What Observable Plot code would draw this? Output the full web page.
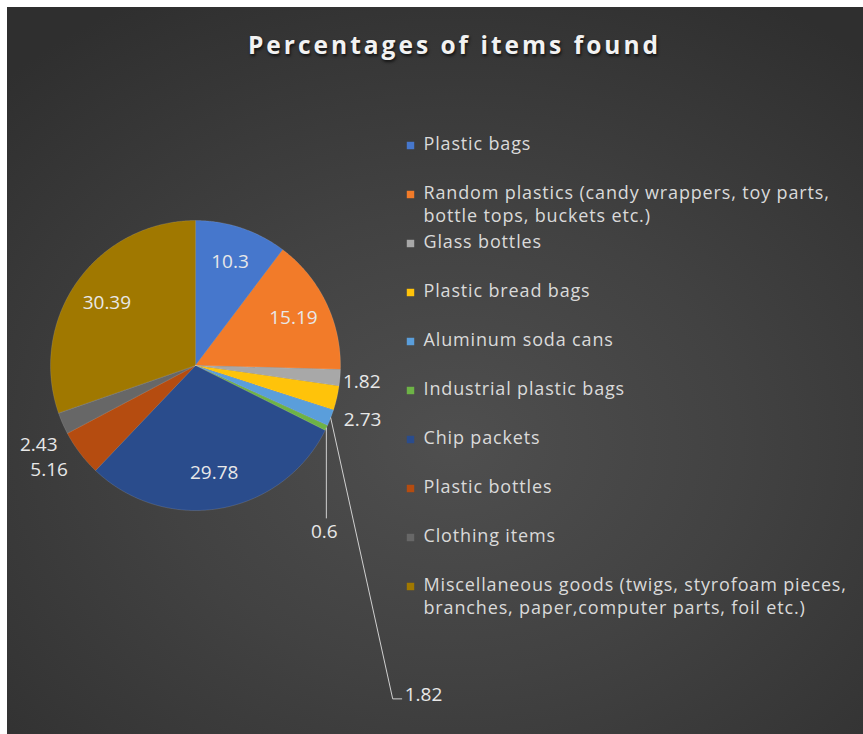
<!DOCTYPE html>
<html>
<head>
<meta charset="utf-8">
<script src="https://cdn.jsdelivr.net/npm/d3@7"></script>
<script src="https://cdn.jsdelivr.net/npm/@observablehq/plot@0.6"></script>
<style>
  html, body { margin: 0; padding: 0; background: #ffffff; }
  #chart {
    position: absolute; left: 7px; top: 7px; width: 856px; height: 727px;
    background: radial-gradient(ellipse 75% 70% at 52% 60%, #4f4f4f 0%, #424242 45%, #2f2f2f 100%);
    overflow: hidden;
  }
  #chart svg { background: transparent !important; }
</style>
</head>
<body>
<div id="chart"></div>
<script>
// ---------- data ----------
const title = "Percentages of items found";
const categories = [
  "Plastic bags",
  "Random plastics (candy wrappers, toy parts,\nbottle tops, buckets etc.)",
  "Glass bottles",
  "Plastic bread bags",
  "Aluminum soda cans",
  "Industrial plastic bags",
  "Chip packets",
  "Plastic bottles",
  "Clothing items",
  "Miscellaneous goods (twigs, styrofoam pieces,\nbranches, paper,computer parts, foil etc.)"
];
const values = [10.3, 15.19, 1.82, 2.73, 1.82, 0.6, 29.78, 5.16, 2.43, 30.39];
const colors = ["#4677cc", "#f27b29", "#a8a8a8", "#ffc30a", "#5a9edb", "#6db346",
                "#2a4c8c", "#b54c10", "#676767", "#a07800"];

// ---------- layout (not data) ----------
const W = 856, H = 727, OX = 7, OY = 7;        // svg placed at (7,7) in the frame
const cx = 195, cy = 365, R = 145;             // pie centre / radius in frame pixels
const legendX = 410, legendY0 = 144, legendStep = 49, legendLine = 23;
// label placement: "in" = inside at 0.75R, otherwise offset from slice-edge midpoint
const labelLayout = [
  {mode: "in"}, {mode: "in"},
  {mode: "out", dx: 3, dy: 4, anchor: "start"},
  {mode: "out", dx: 7, dy: 22, anchor: "start"},
  {mode: "leader", path: [[0, 0], [62, 281], [71, 281]], dx: 74, dy: 277, anchor: "start"},
  {mode: "leader", path: [[0, 0], [0, 90]], dx: -2, dy: 104, anchor: "middle"},
  {mode: "in"},
  {mode: "out", dx: -12, dy: 17, anchor: "end"},
  {mode: "out", dx: -5, dy: 22, anchor: "end"},
  {mode: "in"}
];

// ---------- geometry from values ----------
const total = d3.sum(values);
const cum = d3.cumsum(values);
const slices = values.map((v, i) => {
  const a0 = ((cum[i] - v) / total) * 2 * Math.PI;
  const a1 = (cum[i] / total) * 2 * Math.PI;
  return {i, name: categories[i], value: v, a0, a1, am: (a0 + a1) / 2};
});
const polar = (a, r) => [cx + r * Math.sin(a), cy - r * Math.cos(a)];

const slicePts = slices.map(s => {
  const pts = [{x: cx, y: cy}];
  const n = Math.max(2, Math.ceil((s.a1 - s.a0) / (Math.PI / 360)));
  for (let k = 0; k <= n; k++) {
    const [x, y] = polar(s.a0 + (s.a1 - s.a0) * k / n, R);
    pts.push({x, y});
  }
  pts.push({x: cx, y: cy});
  return pts;
});

const labels = [];
const leaders = [];
slices.forEach((s, i) => {
  const L = labelLayout[i];
  const txt = String(s.value);
  if (L.mode === "in") {
    const [x, y] = polar(s.am, R * 0.75);
    labels.push({x, y, txt, anchor: "middle"});
  } else {
    const [ex, ey] = polar(s.am, R);
    labels.push({x: ex + L.dx, y: ey + L.dy, txt, anchor: L.anchor});
    if (L.path) L.path.forEach(([px, py]) => leaders.push({x: ex + px, y: ey + py, k: i}));
  }
});

const legendRows = [];
categories.forEach((c, i) => {
  c.split("\n").forEach((line, j) => {
    legendRows.push({x: legendX + 13, y: legendY0 + i * legendStep + j * legendLine, line, first: j === 0, i});
  });
});
const legendMarks = legendRows.filter(d => d.first);

const fnt = "'Open Sans', 'Noto Sans', sans-serif";
const labelMark = anchor => Plot.text(labels.filter(d => d.anchor === anchor), {
  x: "x", y: "y", text: "txt", textAnchor: anchor,
  fill: "#e8e8e8", fontSize: 19, fontFamily: fnt
});

const plot = Plot.plot({
  width: W, height: H,
  margin: 0,
  x: {domain: [OX, OX + W], range: [0, W], axis: null},
  y: {domain: [OY, OY + H], range: [0, H], axis: null},
  style: {background: "transparent", fontFamily: fnt},
  marks: [
    ...slicePts.map((pts, i) => Plot.line(pts, {
      x: "x", y: "y", fill: colors[i], stroke: "#ffffff", strokeOpacity: 0.12, strokeWidth: 1
    })),
    Plot.line(leaders, {x: "x", y: "y", z: "k", stroke: "#d0d0d0", strokeWidth: 1}),
    labelMark("middle"), labelMark("start"), labelMark("end"),
    Plot.dot(legendMarks, {
      x: legendX, y: d => d.y + 1, symbol: "square", r: 4.2,
      fill: d => colors[d.i], stroke: "none"
    }),
    Plot.text(legendRows, {
      x: "x", y: "y", text: "line", textAnchor: "start",
      fill: "#dadada", fontSize: 18, fontFamily: fnt
    }),
    Plot.text([title], {
      x: 454, y: 46, text: d => d, fill: "#f2f2f2", fontSize: 24.5, fontWeight: "bold",
      fontFamily: fnt
    })
  ]
});

document.getElementById("chart").appendChild(plot);
d3.select(plot).selectAll("text").filter(function() { return this.textContent === title; })
  .style("letter-spacing", "3px")
  .style("text-shadow", "1px 2px 3px rgba(0,0,0,0.7)");
d3.select(plot).selectAll("text").filter(function() { return categories.some(c => c.split("\n").includes(this.textContent)); })
  .style("letter-spacing", "0.85px");
</script>
</body>
</html>
